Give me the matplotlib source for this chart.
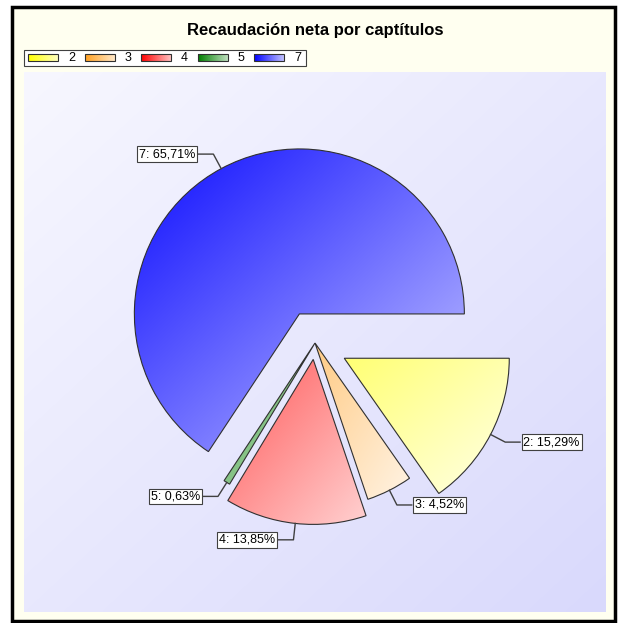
import numpy as np
import matplotlib
matplotlib.use("Agg")
import matplotlib.pyplot as plt
from matplotlib.patches import Rectangle
from matplotlib.colors import to_rgb

plt.rcParams['font.family'] = ['Liberation Sans', 'DejaVu Sans']

# Datos
capitulos = ['2', '3', '4', '5', '7']
porcentajes = [15.29, 4.52, 13.85, 0.63, 65.71]
explode = [0.2, 0.0, 0.1, 0.0, 0.2]
colores = ['#ffff00', '#ffa020', '#ff0000', '#008000', '#0000ff']
titulo = 'Recaudación neta por captítulos'

W, H = 618, 623
# fuerza del color arriba-izquierda / abajo-derecha en cada sector
grad_strength = [(0.55, 0.1), (0.55, 0.12), (0.65, 0.18), (0.6, 0.35), (0.95, 0.22)]


def diag_gradient(color, s0, s1, n=200):
    c = np.array(to_rgb(color))
    i, j = np.mgrid[0:n, 0:n] / (n - 1)
    t = (i + j) / 2
    s = s0 + (s1 - s0) * t
    return 1 - s[..., None] * (1 - c)


def two_color_gradient(ca, cb, n=200):
    ca, cb = np.array(to_rgb(ca)), np.array(to_rgb(cb))
    i, j = np.mgrid[0:n, 0:n] / (n - 1)
    t = ((i + j) / 2)[..., None]
    return ca * (1 - t) + cb * t


fig = plt.figure(figsize=(W / 100, H / 100), dpi=100)
fig.patch.set_facecolor('white')

# capa de fondo en pixeles
bg = fig.add_axes([0, 0, 1, 1])
bg.axis('off')
bg.add_patch(Rectangle((12, 7), 603, 614, facecolor='#fffff0', edgecolor='black', lw=2.5, zorder=1))
bg.imshow(two_color_gradient('#f7f7ff', '#d9d9fc'), extent=(24, 606, 612, 72),
          aspect='auto', interpolation='bilinear', zorder=2)
bg.text(315, 30, titulo, ha='center', va='center', fontsize=12, fontweight='bold')

# leyenda
bg.add_patch(Rectangle((24, 50), 282, 16, facecolor='white', edgecolor='#404040', lw=0.8, zorder=2))
for k, (cap, col) in enumerate(zip(capitulos, colores)):
    x0 = 28 + 56.5 * k
    c = np.array(to_rgb(col))
    s = np.linspace(1.0, 0.25, 60)
    sw = 1 - s[None, :, None] * (1 - c)
    sw = np.repeat(sw, 4, axis=0)
    bg.imshow(sw, extent=(x0, x0 + 30, 61, 54), aspect='auto', interpolation='bilinear', zorder=3)
    bg.add_patch(Rectangle((x0, 54), 30, 7, facecolor='none', edgecolor='#303030', lw=0.8, zorder=4))
    bg.text(x0 + 40, 58, cap, ha='left', va='center', fontsize=9, zorder=4)
bg.set_xlim(0, W)
bg.set_ylim(H, 0)

# pastel
cx, cy, rpx = 315, 343, 165
ax = fig.add_axes([24 / W, 1 - 612 / H, 582 / W, 540 / H])
ax.patch.set_visible(False)
wedges, _ = ax.pie(porcentajes, explode=explode, startangle=0, counterclock=False,
                   colors=colores,
                   wedgeprops=dict(edgecolor='#303030', linewidth=0.8))

for w, col, (s0, s1) in zip(wedges, colores, grad_strength):
    w.set_facecolor('none')
    w.set_zorder(3)
    ext = w.get_path().get_extents()
    im = ax.imshow(diag_gradient(col, s0, s1), extent=(ext.x0, ext.x1, ext.y0, ext.y1),
                   aspect='auto', interpolation='bilinear', zorder=2)
    im.set_clip_path(w)

# etiquetas con linea guia
for w, cap, pct in zip(wedges, capitulos, porcentajes):
    mid = np.deg2rad((w.theta1 + w.theta2) / 2)
    ux, uy = np.cos(mid), np.sin(mid)
    c0x, c0y = w.center
    ax0, ay0 = c0x + ux, c0y + uy
    ex, ey = c0x + 1.1 * ux, c0y + 1.1 * uy
    side = 1 if ux > 0 else -1
    hx = ex + side * 0.09
    ax.plot([ax0, ex, hx], [ay0, ey, ey], color='#404040', lw=1, zorder=4)
    ax.text(hx + side * 0.02, ey, f"{cap}: {pct:.2f}%".replace('.', ','),
            ha='left' if side > 0 else 'right', va='center', fontsize=9, zorder=5,
            bbox=dict(boxstyle='square,pad=0.15', facecolor='white', edgecolor='#404040', lw=0.8))

ax.set_xlim((24 - cx) / rpx, (606 - cx) / rpx)
ax.set_ylim((cy - 612) / rpx, (cy - 72) / rpx)
ax.set_aspect('auto')
ax.axis('off')

fig.savefig('out.png', dpi=100)
